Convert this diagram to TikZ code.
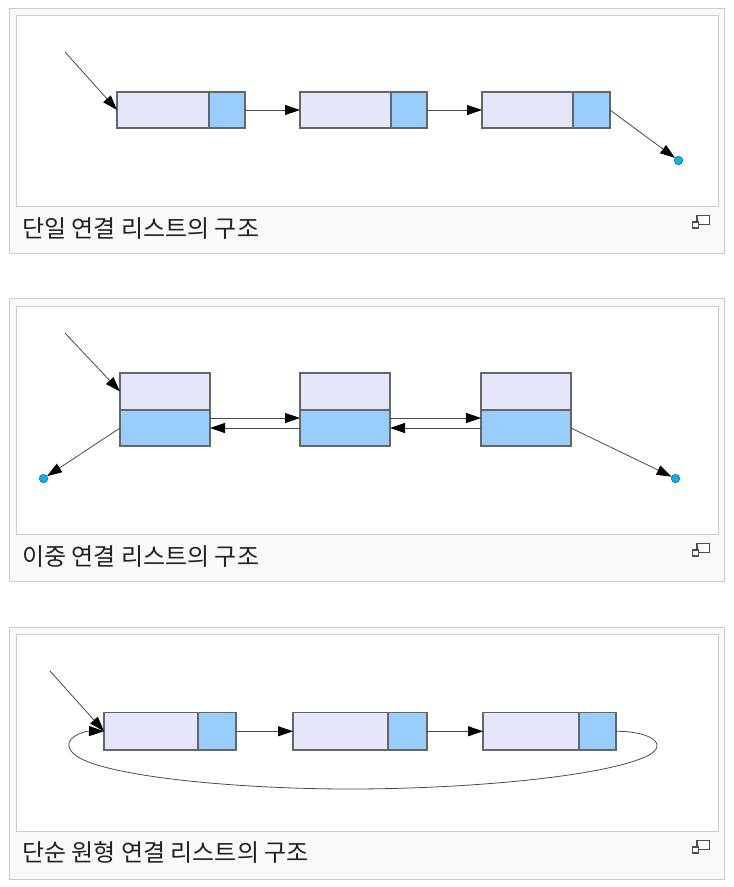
\documentclass[tikz,border=0pt]{standalone}
\usepackage{fontspec}
\newfontfamily\kr{Noto Sans CJK KR}
\usetikzlibrary{arrows.meta}
\definecolor{lav}{HTML}{E6E6FA}
\definecolor{lblue}{HTML}{99CCFF}
\definecolor{boxline}{HTML}{666666}
\definecolor{conn}{HTML}{4A4A4A}
\definecolor{framec}{HTML}{C8CCD1}
\definecolor{panelbg}{HTML}{F8F9FA}
\definecolor{txt}{HTML}{202122}
\definecolor{dotc}{RGB}{0,180,240}
\definecolor{dotline}{HTML}{1A5F8A}
\begin{document}
\begin{tikzpicture}[x=1pt,y=-1pt,
  cell/.style={draw=boxline, line width=1.2pt, inner sep=0pt, outer sep=0pt, anchor=north west},
  datacell/.style={cell, fill=lav},
  ptrcell/.style={cell, fill=lblue},
  link/.style={draw=conn, line width=0.8pt, -{Triangle[length=15pt,width=10pt,color=black]}},
  nulldot/.style={circle, fill=dotc, draw=dotline, line width=0.5pt, minimum size=8.5pt, inner sep=0pt, outer sep=0pt},
  outerframe/.style={draw=framec, fill=panelbg, line width=1pt},
  innerframe/.style={draw=framec, fill=white, line width=1pt},
  caption/.style={anchor=base west, inner sep=0pt, text=txt, font=\kr\fontsize{24pt}{28pt}\selectfont},
  magicon/.style={draw=txt!80, line width=1.1pt}
]
\path[use as bounding box, fill=white] (0,0) rectangle (734,887);

% ---------- Panel 1 ----------
\path[outerframe] (9.5,8.5) rectangle (724.5,253.5);
\path[innerframe] (16.5,15.5) rectangle (718.5,206.5);
\node[caption] (cap1) at (22,237) {단일 연결 리스트의 구조};
\draw[magicon, fill=white] (697,215.5) rectangle (709.5,224.5);
\draw[magicon, fill=white] (692.5,222) rectangle (698.5,228);

\node[datacell, minimum width=92pt, minimum height=36pt] (sa1) at (117,92) {};
\node[ptrcell, minimum width=36pt, minimum height=36pt] (sp1) at (209,92) {};
\node[datacell, minimum width=91pt, minimum height=36pt] (sa2) at (300,92) {};
\node[ptrcell, minimum width=36pt, minimum height=36pt] (sp2) at (391,92) {};
\node[datacell, minimum width=91pt, minimum height=36pt] (sa3) at (482,92) {};
\node[ptrcell, minimum width=37pt, minimum height=36pt] (sp3) at (573,92) {};
\coordinate (sstart) at (65,52);
\node[nulldot] (snull) at (678.5,160.5) {};
\draw[link] (sstart) -- (sa1.west);
\draw[link] (sp1.east) -- (sa2.west);
\draw[link] (sp2.east) -- (sa3.west);
\draw[link] (sp3.east) -- (snull);

% ---------- Panel 2 ----------
\path[outerframe] (9.5,298.5) rectangle (724.5,581.5);
\path[innerframe] (16.5,306.5) rectangle (718.5,534.5);
\node[caption] (cap2) at (22,565) {이중 연결 리스트의 구조};
\draw[magicon, fill=white] (697,543.5) rectangle (709.5,552.5);
\draw[magicon, fill=white] (692.5,550) rectangle (698.5,556);

\node[datacell, minimum width=90pt, minimum height=37pt] (dt1) at (120,373) {};
\node[ptrcell, minimum width=90pt, minimum height=36pt] (db1) at (120,410) {};
\node[datacell, minimum width=90pt, minimum height=37pt] (dt2) at (300,373) {};
\node[ptrcell, minimum width=90pt, minimum height=36pt] (db2) at (300,410) {};
\node[datacell, minimum width=90pt, minimum height=37pt] (dt3) at (481,373) {};
\node[ptrcell, minimum width=90pt, minimum height=36pt] (db3) at (481,410) {};
\coordinate (dstart) at (65,333);
\node[nulldot] (dnullL) at (43.5,478.5) {};
\node[nulldot] (dnullR) at (675.5,478.5) {};
\draw[link] (dstart) -- (dt1.west);
\draw[link] ([yshift=10pt]db1.east) -- ([yshift=10pt]db2.west);
\draw[link] (db2.west) -- (db1.east);
\draw[link] ([yshift=10pt]db2.east) -- ([yshift=10pt]db3.west);
\draw[link] (db3.west) -- (db2.east);
\draw[link] (db1.west) -- (dnullL);
\draw[link] (db3.east) -- (dnullR);

% ---------- Panel 3 ----------
\path[outerframe] (9.5,627.5) rectangle (724.5,879.5);
\path[innerframe] (16.5,634.5) rectangle (718.5,831.5);
\node[caption] (cap3) at (22,861) {단순 원형 연결 리스트의 구조};
\draw[magicon, fill=white] (697,840.5) rectangle (709.5,849.5);
\draw[magicon, fill=white] (692.5,847) rectangle (698.5,853);

\node[datacell, minimum width=94pt, minimum height=37.5pt] (ca1) at (104,712.5) {};
\node[ptrcell, minimum width=38pt, minimum height=37.5pt] (cp1) at (198,712.5) {};
\node[datacell, minimum width=95pt, minimum height=37.5pt] (ca2) at (293,712.5) {};
\node[ptrcell, minimum width=39pt, minimum height=37.5pt] (cp2) at (388,712.5) {};
\node[datacell, minimum width=96pt, minimum height=37.5pt] (ca3) at (483,712.5) {};
\node[ptrcell, minimum width=37pt, minimum height=37.5pt] (cp3) at (579,712.5) {};
\coordinate (cstart) at (50,671);
\draw[link] (cstart) -- (ca1.west);
\draw[link] (cp1.east) -- (ca2.west);
\draw[link] (cp2.east) -- (ca3.west);
\draw[link] (cp3.east) .. controls +(40,0) and (672,748) .. (640,759)
  .. controls (590,778) and (460,789) .. (350,789)
  .. controls (230,789) and (90,775) .. (72,752)
  .. controls (60,738) and (85,731) .. (ca1.west);
\end{tikzpicture}
\end{document}
